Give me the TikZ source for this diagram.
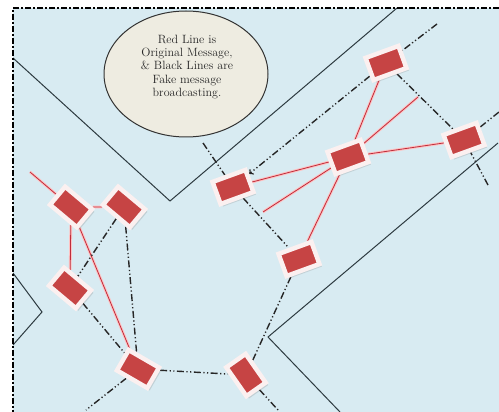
\documentclass[tikz,border=0pt]{standalone}
\usepackage{xcolor}
\usetikzlibrary{shapes.geometric,shadows}
\definecolor{seablue}{RGB}{216,235,242}
\definecolor{notefill}{RGB}{238,236,225}
\definecolor{devred}{RGB}{198,68,68}
\definecolor{devframe}{RGB}{251,240,240}
\definecolor{origred}{RGB}{190,45,60}
\definecolor{roadgray}{RGB}{45,58,64}
\pgfdeclarelayer{back}
\pgfdeclarelayer{wires}
\pgfsetlayers{back,wires,main}

\begin{document}
\begin{tikzpicture}[x=1pt,y=-1pt,
    dev/.style={rectangle, fill=devred, draw=devframe, line width=4.5pt,
      minimum width=35pt, minimum height=23.5pt, inner sep=0pt,
      drop shadow={shadow xshift=2.5pt, shadow yshift=-2.5pt, opacity=0.25}},
    orig/.style={draw=origred, line width=0.8pt,
      preaction={draw=pink!80!red!60, line width=2.8pt}},
    fake/.style={draw=black!85, line width=1.4pt,
      dash pattern=on 7pt off 2.5pt on 1.2pt off 2.5pt on 1.2pt off 2.5pt},
    road/.style={draw=roadgray, line width=1pt}]
  \useasboundingbox (0,0) rectangle (499,412);
  \begin{pgfonlayer}{back}
    \fill[seablue] (13,8) rectangle (499,412);
    \draw[road] (13,58) -- (170,201) -- (397,8);
    \draw[road] (498,143) -- (268,337) -- (340,412);
    \draw[road] (13,273) -- (42,312) -- (13,345);
  \end{pgfonlayer}
  \node[ellipse, fill=notefill, draw=black!80, line width=1pt,
    minimum width=164pt, minimum height=126pt] (note) at (186,74) {};
  \node[align=center, text=black!85, font=\fontsize{12}{13.2}\selectfont]
    (notetext) at (187,67)
    {Red Line is\\Original Message,\\\& Black Lines are\\Fake message\\broadcasting.};
  \node[dev, rotate=-40] (A) at (71,207) {};
  \node[dev, rotate=-40] (B) at (124,207) {};
  \node[dev, rotate=-40] (C) at (70,288) {};
  \node[dev, rotate=-30] (D) at (138,369) {};
  \node[dev, rotate=-55] (E) at (246,375) {};
  \node[dev, rotate=20] (F) at (299,259) {};
  \node[dev, rotate=20] (G) at (233,187) {};
  \node[dev, rotate=20] (H) at (348,157) {};
  \node[dev, rotate=20] (I) at (386,63) {};
  \node[dev, rotate=20] (J) at (464,140) {};
  \coordinate (a0) at (30,172);
  \coordinate (h1) at (418,97);
  \coordinate (h2) at (263,212);
  \coordinate (i1) at (437,24);
  \coordinate (j1) at (499,112);
  \coordinate (j2) at (488,185);
  \coordinate (g1) at (203,143);
  \coordinate (e1) at (278,410);
  \coordinate (d1) at (86,410);
  \begin{pgfonlayer}{wires}
    \draw[orig] (a0) -- (A);
    \draw[orig] (A) -- (B);
    \draw[orig] (A) -- (C);
    \draw[orig] (A) -- (D);
    \draw[orig] (G) -- (H);
    \draw[orig] (H) -- (J);
    \draw[orig] (H) -- (I);
    \draw[orig] (H) -- (F);
    \draw[orig] (H) -- (h1);
    \draw[orig] (H) -- (h2);
    \draw[fake] (i1) -- (I);
    \draw[fake, ->] (I) -- (G);
    \draw[fake] (I) -- (J);
    \draw[fake] (J) -- (j1);
    \draw[fake] (j2) -- (J);
    \draw[fake] (g1) -- (G);
    \draw[fake] (G) -- (F);
    \draw[fake] (F) -- (E);
    \draw[fake] (E) -- (e1);
    \draw[fake] (D) -- (E);
    \draw[fake] (D) -- (d1);
    \draw[fake] (C) -- (D);
    \draw[fake] (B) -- (D);
    \draw[fake] (B) -- (C);
  \end{pgfonlayer}
  \draw[line width=2pt, dash pattern=on 6pt off 2pt on 2pt off 2pt]
    (499,8) -- (13,8) -- (13,412);
\end{tikzpicture}
\end{document}
